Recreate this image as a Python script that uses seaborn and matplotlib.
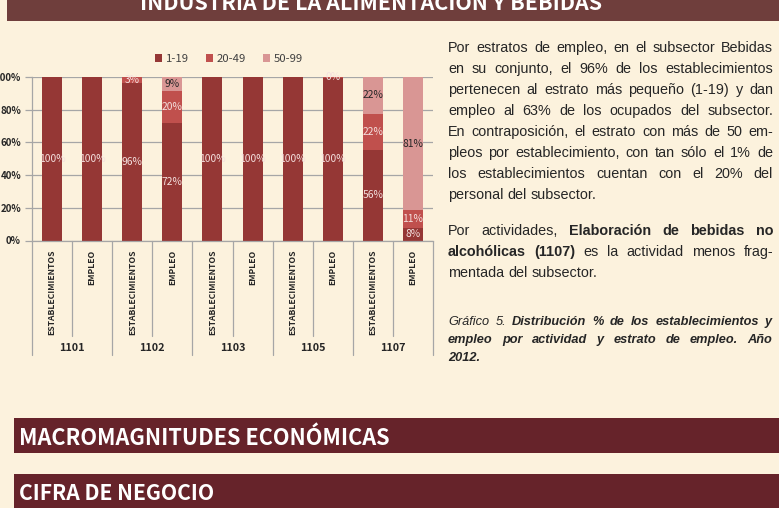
import matplotlib
matplotlib.use("Agg")
import matplotlib.pyplot as plt
import seaborn as sns
import pandas as pd
from matplotlib.patches import Rectangle, Patch
from matplotlib.transforms import blended_transform_factory

# ---------------- data ----------------
actividades = ["1101", "1102", "1103", "1105", "1107"]
medidas = ["ESTABLECIMIENTOS", "EMPLEO"]
estratos = ["1-19", "20-49", "50-99"]
# bar order: 1101 EST, 1101 EMP, 1102 EST, 1102 EMP, ...
v_1_19 = [100, 100, 96.4, 71.6, 100, 100, 100, 99.6, 55.6, 7.6]
v_20_49 = [0, 0, 3.3, 19.6, 0, 0, 0, 0.4, 22.0, 11.0]
v_50_99 = [0, 0, 0.3, 8.8, 0, 0, 0, 0, 22.4, 81.4]
lab_1_19 = ["100%", "100%", "96%", "72%", "100%", "100%", "100%", "100%", "56%", "8%"]
lab_20_49 = ["", "", "3%", "20%", "", "", "", "0%", "22%", "11%"]
lab_50_99 = ["", "", "", "9%", "", "", "", "", "22%", "81%"]
yticks = [0, 20, 40, 60, 80, 100]
ytick_labels = ["0%", "20%", "40%", "60%", "80%", "100%"]

titulo = "INDUSTRIA DE LA ALIMENTACIÓN Y BEBIDAS"
seccion1 = "MACROMAGNITUDES ECONÓMICAS"
seccion2 = "CIFRA DE NEGOCIO"

# text lines: list of (segment, style)
parrafo1 = [
    [("Por estratos de empleo, en el subsector Bebidas", "n")],
    [("en su conjunto, el 96% de los establecimientos", "n")],
    [("pertenecen al estrato más pequeño (1-19) y dan", "n")],
    [("empleo al 63% de los ocupados del subsector.", "n")],
    [("En contraposición, el estrato con más de 50 em-", "n")],
    [("pleos por establecimiento, con tan sólo el 1% de", "n")],
    [("los establecimientos cuentan con el 20% del", "n")],
    [("personal del subsector.", "n")],
]
parrafo2 = [
    [("Por actividades,", "n"), ("Elaboración de bebidas no", "b")],
    [("alcohólicas (1107)", "b"), ("es la actividad menos frag-", "n")],
    [("mentada del subsector.", "n")],
]
pie = [
    [("Gráfico 5.", "i"), ("Distribución % de los establecimientos y", "bi")],
    [("empleo por actividad y estrato de empleo. Año", "bi")],
    [("2012.", "bi")],
]

# ---------------- style ----------------
BG = "#fcf2dd"
COL = ["#953735", "#c0504d", "#d99694"]
LABCOL = ["#f4e0de", "#f4e0de", "#262626"]
GRID = "#a6a6a6"
CAL = ["Noto Sans CJK JP", "Lato", "DejaVu Sans"]
SANS = ["Liberation Sans", "DejaVu Sans"]
W, H = 779, 508

sns.set_theme(style="white")
plt.rcParams["font.family"] = SANS

fig = plt.figure(figsize=(W / 100, H / 100), dpi=100, facecolor=BG)
fig.canvas.draw()
R = fig.canvas.get_renderer()


def fx(px):
    return px / W


def fy(py):
    return 1 - py / H


def text_w(s, **kw):
    t = fig.text(0, 0, s, **kw)
    w = t.get_window_extent(R).width
    t.remove()
    return w


def fit_size(s, target, weight="normal", family=CAL):
    return 10 * target / text_w(s, fontsize=10, fontweight=weight, family=family)


def rect(x0, y0, x1, y1, color):
    fig.add_artist(Rectangle((fx(x0), fy(y1)), (x1 - x0) / W, (y1 - y0) / H,
                             transform=fig.transFigure, facecolor=color,
                             edgecolor="none", zorder=0))


def fit_text(s, x0, x1, base, color, weight, family):
    size = fit_size(s, x1 - x0, weight, family)
    fig.text(fx(x0), fy(base), s, fontsize=size, fontweight=weight,
             family=family, color=color, ha="left", va="baseline", zorder=3)


STY = {"n": ("normal", "normal"), "b": ("bold", "normal"),
       "i": ("normal", "italic"), "bi": ("bold", "italic")}


def put_line(segs, x0, x1, base, size, justify=True, color="#262626"):
    words = []
    for s, st in segs:
        for w in s.split(" "):
            words.append((w, st))
    kws = []
    for w, st in words:
        wt, sl = STY[st]
        kws.append(dict(fontsize=size, fontweight=wt, fontstyle=sl, family=SANS))
    widths = [text_w(w, **k) for (w, _), k in zip(words, kws)]
    space = text_w("a a", fontsize=size, family=SANS) - text_w("aa", fontsize=size, family=SANS)
    if justify and len(words) > 1:
        gap = (x1 - x0 - sum(widths)) / (len(words) - 1)
    else:
        gap = space
    x = x0
    for (w, _), k, wd in zip(words, kws, widths):
        fig.text(fx(x), fy(base), w, ha="left", va="baseline", color=color, **k)
        x += wd + gap


# ---------------- banners ----------------
rect(7, -2, 779, 21, "#6f3e3c")
fit_text(titulo, 140, 600, 10, "white", "bold", CAL)
rect(14, 418, 779, 453, "#66232a")
fit_text(seccion1, 19, 390, 445, "white", "bold", CAL)
rect(14, 474, 779, 510, "#66232a")
fit_text(seccion2, 19, 215, 500, "white", "bold", CAL)

# ---------------- chart ----------------
ax = fig.add_axes([fx(32), fy(240.5), (433 - 32) / W, 163.5 / H])
ax.set_facecolor("none")

keys = [f"{a}|{m}" for a in actividades for m in medidas]
df = pd.DataFrame({"key": keys, "e1": v_1_19, "e2": v_20_49, "e3": v_50_99})
df["top1"] = df["e1"]
df["top2"] = df["e1"] + df["e2"]
df["top3"] = df["e1"] + df["e2"] + df["e3"]

for col, c in [("top3", COL[2]), ("top2", COL[1]), ("top1", COL[0])]:
    sns.barplot(data=df, x="key", y=col, order=keys, color=c, width=0.5,
                errorbar=None, saturation=1, linewidth=0, edgecolor="none", ax=ax)

ax.set_xlim(-0.5, len(keys) - 0.5)
ax.set_ylim(0, 100)
ax.set_xlabel("")
ax.set_ylabel("")
ax.set_xticks([])
ax.set_yticks(yticks)
ysz = min(8.0, fit_size("20%", 21, "bold"))
ax.set_yticklabels(ytick_labels, fontsize=ysz, fontweight="bold", color="#262626", family=CAL)
ax.tick_params(axis="y", length=5, width=0.9, color=GRID, pad=3, left=True)
ax.yaxis.grid(True, color=GRID, linewidth=0.9)
ax.set_axisbelow(True)
for s in ["top", "right"]:
    ax.spines[s].set_visible(False)
for s in ["left", "bottom"]:
    ax.spines[s].set_color(GRID)
    ax.spines[s].set_linewidth(0.9)

# segment labels
vals = [v_1_19, v_20_49, v_50_99]
labs = [lab_1_19, lab_20_49, lab_50_99]
for i in range(len(keys)):
    bottom = 0
    for j in range(3):
        v = vals[j][i]
        if labs[j][i]:
            ax.text(i, bottom + v / 2, labs[j][i], ha="center", va="center",
                    fontsize=7.4, color=LABCOL[j], family=CAL, zorder=5)
        bottom += v

# multi-level category axis
tr = blended_transform_factory(ax.transData, ax.transAxes)
for k in range(len(keys) + 1):
    x = k - 0.5
    low = -0.70 if k % 2 == 0 else -0.584
    ax.plot([x, x], [0, low], transform=tr, clip_on=False, color=GRID, lw=0.9)
rsz = min(7.0, fit_size("ESTABLECIMIENTOS", 86, "bold"))
for i, key in enumerate(keys):
    m = key.split("|")[1]
    ax.text(i, -0.058, m, transform=tr, rotation=90, ha="center", va="top",
            fontsize=rsz, fontweight="bold", color="#262626", family=CAL)
for g, a in enumerate(actividades):
    ax.text(2 * g + 0.5, -0.66, a, transform=tr, ha="center", va="center",
            fontsize=7.8, fontweight="bold", color="#262626", family=CAL)

handles = [Patch(facecolor=c, edgecolor="none") for c in COL]
fig.legend(handles, estratos, loc="center", bbox_to_anchor=(fx(229), fy(59)),
           ncol=3, frameon=False, handlelength=0.6, handleheight=0.6,
           handletextpad=0.35, columnspacing=1.5,
           prop={"family": CAL, "size": 8.2}, labelcolor="#404040")

# ---------------- right text ----------------
TS = 10.4
for i, line in enumerate(parrafo1):
    put_line(line, 448, 773, 52 + 21 * i, TS, justify=(i < len(parrafo1) - 1))
for i, line in enumerate(parrafo2):
    put_line(line, 448, 773, 235 + 21 * i, TS, justify=(i < len(parrafo2) - 1))
for i, line in enumerate(pie):
    put_line(line, 448, 772, 325 + 18 * i, 9.2, justify=(i < len(pie) - 1))

fig.savefig("out.png", dpi=100, facecolor=BG)
